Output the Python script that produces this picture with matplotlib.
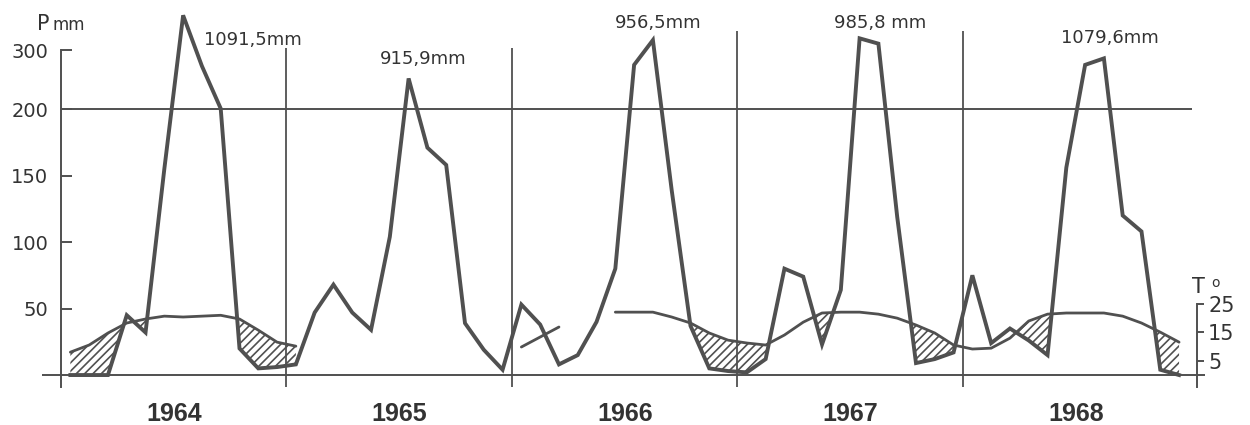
import numpy as np
import matplotlib
matplotlib.use('Agg')
import matplotlib.pyplot as plt

plt.rcParams['font.family'] = ['DejaVu Sans']
plt.rcParams['hatch.linewidth'] = 1.2

nan = np.nan

years = ['1964', '1965', '1966', '1967', '1968']
year_totals = ['1091,5mm', '915,9mm', '956,5mm', '985,8 mm', '1079,6mm']

# monthly precipitation in mm, Jan 1964 .. Dec 1968
precip = [0, 0, 0, 45, 32, 155, 359, 273, 201, 20, 5, 6,
          8, 47, 68, 47, 34, 104, 252, 171, 158, 39, 19, 4,
          53, 38, 8, 15, 40, 80, 275, 317, 139, 37, 5, 3,
          2, 12, 80, 74, 23, 64, 320, 311, 119, 9, 12, 17,
          75, 24, 35, 26, 15, 156, 275, 286, 120, 108, 4, 0]

# monthly mean temperature in deg C (nan where no curve is drawn)
temp = [8.0, 10.5, 14.7, 18.2, 19.6, 20.6, 20.3, 20.6, 20.9, 19.6, 15.7, 11.5,
        10.1, nan, nan, nan, nan, nan, nan, nan, nan, nan, nan, nan,
        9.8, 13.3, 16.8, nan, nan, 22.0, 22.0, 22.0, 20.3, 18.2, 14.7, 12.2,
        11.2, 10.5, 14.0, 18.5, 21.7, 22.0, 22.0, 21.3, 19.9, 17.5, 14.7, 10.5,
        9.1, 9.4, 12.9, 18.9, 21.3, 21.7, 21.7, 21.7, 20.6, 18.2, 15.0, 11.5]

p_ticks = [50, 100, 150, 200, 300]
t_ticks = [5, 15, 25]

# annotation positions (month, mm) for the yearly totals
total_x = [10.2, 19.3, 31.8, 43.6, 55.8]
total_y = [318, 285, 346, 346, 320]

# scale: linear up to 200 mm, compressed above
UPPER = 0.4436
T_SCALE = 2.15  # mm per deg C
INK = '#505050'
TXT = '#333333'


def fwd(p):
    p = np.asarray(p, dtype=float)
    return np.where(p > 200, 200 + (p - 200) * UPPER, p)


def inv(f):
    f = np.asarray(f, dtype=float)
    return np.where(f > 200, 200 + (f - 200) / UPPER, f)


def fwd_t(t):
    return fwd(np.asarray(t, dtype=float) * T_SCALE) / T_SCALE


def inv_t(f):
    return inv(np.asarray(f, dtype=float) * T_SCALE) / T_SCALE


months = np.arange(len(precip)) + 0.5
p = np.array(precip, dtype=float)
t = np.array(temp, dtype=float)
t_mm = t * T_SCALE

fig = plt.figure(figsize=(12.5, 4.25), dpi=100)
ax = fig.add_axes([0.0336, 0.0894, 0.9304, 0.9106])
ax.set_yscale('function', functions=(fwd, inv))
ax.set_xlim(-1.01, 60.88)
ax.set_ylim(-9, 385)

# frame lines
ax.axhline(0, color=INK, lw=1.4)
ax.hlines(200, 0, 60.2, color=INK, lw=1.4)
ax.vlines([12, 24, 36, 48], -9, [303, 303, 333, 333], color=INK, lw=1.3)

# dry periods (the short early-1966 temperature stub is not hatched)
dry = p < t_mm
dry[24:27] = False
ax.fill_between(months, p, t_mm, where=dry, interpolate=True,
                facecolor='none', edgecolor=INK, hatch='////', linewidth=0)

ax.plot(months, t_mm, color=INK, lw=2.0, solid_capstyle='round')
ax.plot(months, p, color=INK, lw=2.8, solid_joinstyle='miter')

for sp in ['top', 'right', 'bottom']:
    ax.spines[sp].set_visible(False)
ax.spines['left'].set_position(('data', 0))
ax.spines['left'].set_bounds(-9, 300)
ax.spines['left'].set_color(INK)
ax.spines['left'].set_linewidth(1.4)
ax.set_yticks(p_ticks)
ax.set_yticklabels([str(v) for v in p_ticks])
ax.tick_params(axis='y', direction='in', length=8, width=1.4, color=INK,
               pad=9, labelsize=14, labelcolor=TXT)
ax.yaxis.set_minor_locator(plt.NullLocator())

ax.set_xticks([6, 18, 30, 42, 54])
ax.set_xticklabels(years, fontsize=18, fontweight='bold', color=TXT,
                   family='Liberation Sans')
ax.tick_params(axis='x', length=0, pad=11)

for x, y, s in zip(total_x, total_y, year_totals):
    ax.text(x, y, s, ha='center', va='center', fontsize=13, color=TXT)

# temperature axis on the right
ax2 = ax.twinx()
ax2.set_yscale('function', functions=(fwd_t, inv_t))
ax2.set_ylim(-9 / T_SCALE, 385 / T_SCALE)
for sp in ['top', 'left', 'bottom']:
    ax2.spines[sp].set_visible(False)
ax2.spines['right'].set_position(('data', 60.45))
ax2.spines['right'].set_bounds(-9 / T_SCALE, 25)
ax2.spines['right'].set_color(INK)
ax2.spines['right'].set_linewidth(1.4)
ax2.set_yticks(t_ticks)
ax2.set_yticklabels([str(v) for v in t_ticks])
ax2.yaxis.set_minor_locator(plt.NullLocator())
ax2.tick_params(axis='y', direction='out', length=5, width=1.4, color=INK,
                pad=3, labelsize=15, labelcolor=TXT)

fig.text(37 / 1250, 1 - 30 / 425, 'P', fontsize=15, va='baseline', color=TXT)
fig.text(52 / 1250, 1 - 30 / 425, 'mm', fontsize=12, va='baseline', color=TXT)
fig.text(1192 / 1250, 1 - 293 / 425, 'T', fontsize=15, va='baseline', color=TXT)
fig.text(1211 / 1250, 1 - 287 / 425, 'o', fontsize=10, va='baseline', color=TXT)

fig.savefig('out.png', dpi=100, facecolor='white')
